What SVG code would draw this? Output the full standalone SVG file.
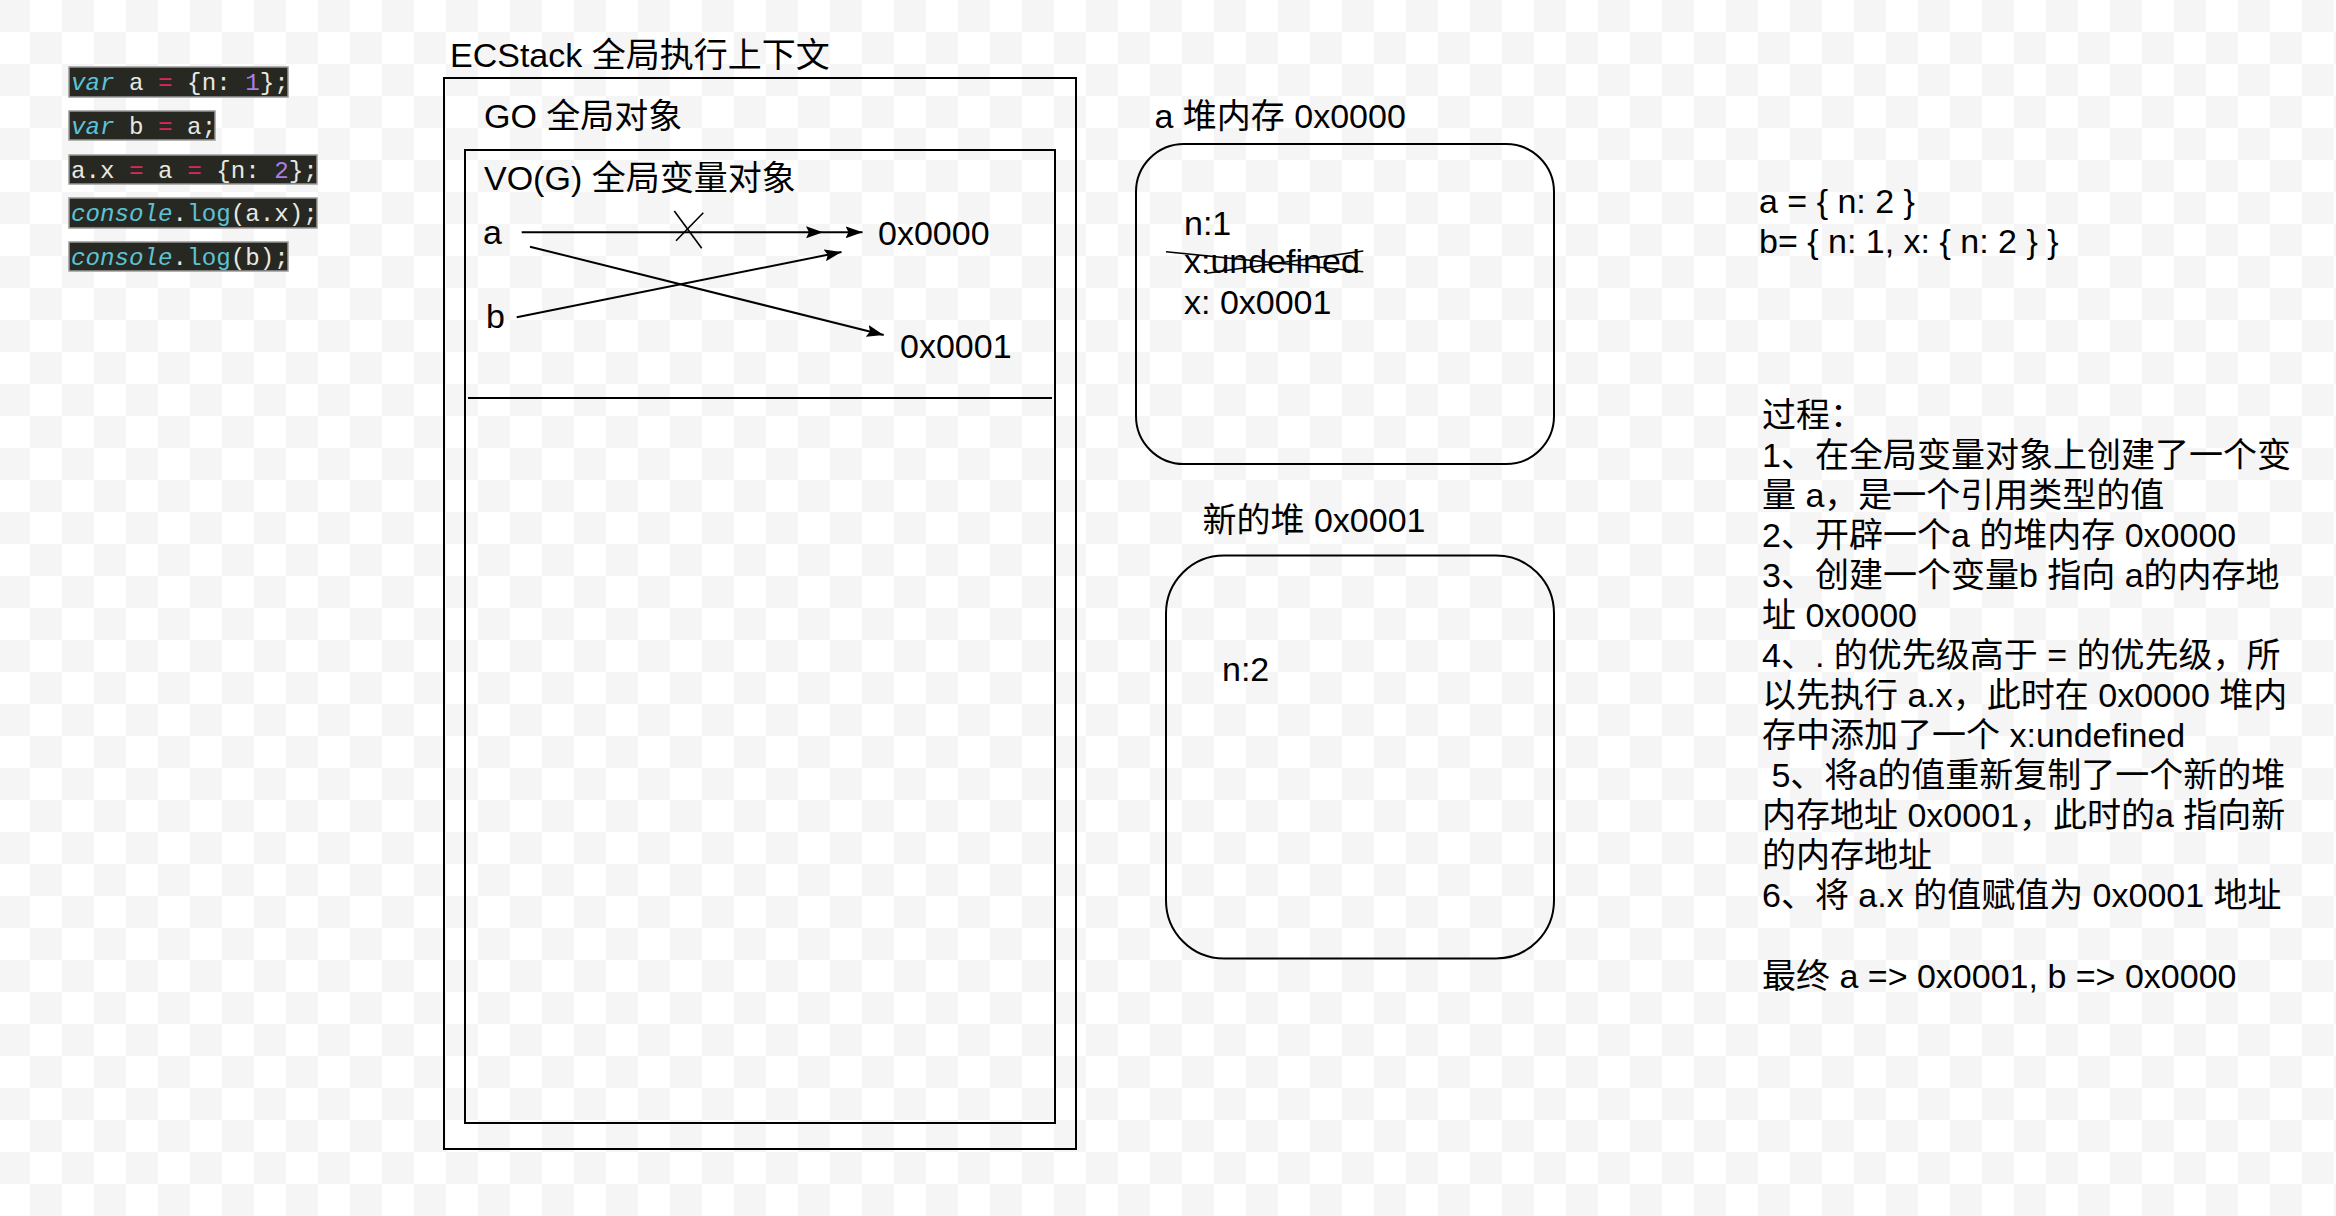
<svg xmlns="http://www.w3.org/2000/svg" width="2336" height="1216" viewBox="0 0 2336 1216">
<style>
.t{font-family:"Liberation Sans","Noto Sans CJK SC",sans-serif;font-size:34px;fill:#000}
.box{fill:none;stroke:#000;stroke-width:2}
.ln{fill:none;stroke:#000;stroke-width:2}
.thin{fill:none;stroke:#000;stroke-width:1.6}
.cbg{fill:#272822;stroke:#9a9a9a;stroke-width:1.5}
.code{font-family:"Liberation Mono","DejaVu Sans Mono",monospace;font-size:24.2px;fill:#e8e8e2}
.kw{fill:#5cc3d6;font-style:italic}
.fn{fill:#5cc3d6}
.op{fill:#e0245e}
.num{fill:#a67ee8}
</style>
<defs>
<pattern id="checker" x="-2" y="0" width="64" height="64" patternUnits="userSpaceOnUse">
<rect width="64" height="64" fill="#ffffff"/>
<rect width="32" height="32" fill="#f5f5f5"/>
<rect x="32" y="32" width="32" height="32" fill="#f5f5f5"/>
</pattern>
<marker id="arr" viewBox="0 0 17 12" markerUnits="userSpaceOnUse" markerWidth="17" markerHeight="12" refX="17" refY="6" orient="auto">
<path d="M0,0 L17,6 L0,12 L3,6 Z" fill="#000"/>
</marker>
</defs>
<rect width="2336" height="1216" fill="url(#checker)"/>

<g id="code">
<rect class="cbg" x="69" y="67" width="219" height="30"/>
<text class="code" x="71" y="90" xml:space="preserve"><tspan class="kw">var</tspan> a <tspan class="op">=</tspan> {n: <tspan class="num">1</tspan>};</text>
<rect class="cbg" x="69" y="111" width="146" height="29"/>
<text class="code" x="71" y="134" xml:space="preserve"><tspan class="kw">var</tspan> b <tspan class="op">=</tspan> a;</text>
<rect class="cbg" x="69" y="155" width="248" height="29"/>
<text class="code" x="71" y="178" xml:space="preserve">a.x <tspan class="op">=</tspan> a <tspan class="op">=</tspan> {n: <tspan class="num">2</tspan>};</text>
<rect class="cbg" x="69" y="198" width="248" height="30"/>
<text class="code" x="71" y="221" xml:space="preserve"><tspan class="kw">console</tspan>.<tspan class="fn">log</tspan>(a.x);</text>
<rect class="cbg" x="69" y="242" width="219" height="29"/>
<text class="code" x="71" y="265" xml:space="preserve"><tspan class="kw">console</tspan>.<tspan class="fn">log</tspan>(b);</text>
</g>

<g id="ecstack">
<text class="t" x="450" y="67">ECStack 全局执行上下文</text>
<rect class="box" x="444" y="78" width="632" height="1071"/>
</g>

<g id="go">
<text class="t" x="484" y="128">GO 全局对象</text>
</g>

<g id="vo">
<rect class="box" x="465" y="150" width="590" height="973"/>
<text class="t" x="484" y="190">VO(G) 全局变量对象</text>
<line class="ln" x1="468" y1="398" x2="1052" y2="398"/>
<text class="t" x="483" y="244">a</text>
<text class="t" x="486" y="328">b</text>
<text class="t" x="878" y="245">0x0000</text>
<text class="t" x="900" y="358">0x0001</text>
</g>

<g id="connectors">
<path class="ln" d="M521.7,232.3 L823,232.3" marker-end="url(#arr)"/>
<path class="ln" d="M823,232.3 L862.5,232.3" marker-end="url(#arr)"/>
<path class="ln" d="M530,246.7 L883.7,335" marker-end="url(#arr)"/>
<path class="ln" d="M516.7,317.3 L841.5,252" marker-end="url(#arr)"/>
<line class="thin" x1="674.3" y1="211" x2="701.7" y2="248.3"/>
<line class="thin" x1="703.3" y1="212.7" x2="676" y2="240.7"/>
</g>

<g id="heap0">
<text class="t" x="1154.5" y="128">a 堆内存 0x0000</text>
<rect class="box" x="1136" y="144" width="418" height="320" rx="48" ry="48"/>
<text class="t" x="1184" y="235">n:1</text>
<text class="t" x="1184" y="273">x:undefined</text>
<text class="t" x="1184" y="314">x: 0x0001</text>
<line class="thin" x1="1166" y1="251.7" x2="1363.3" y2="271.7"/>
<line class="thin" x1="1206.7" y1="273.3" x2="1363.3" y2="251"/>
</g>

<g id="heap1">
<text class="t" x="1202.5" y="532">新的堆 0x0001</text>
<rect class="box" x="1166" y="555.5" width="388" height="403" rx="58" ry="58"/>
<text class="t" x="1222" y="681">n:2</text>
</g>

<g id="result">
<text class="t" x="1759" y="213">a = { n: 2 }</text>
<text class="t" x="1759" y="253">b= { n: 1, x: { n: 2 } }</text>
</g>

<g id="process">
<text class="t" x="1762" y="427">过程：</text>
<text class="t" x="1762" y="467">1、在全局变量对象上创建了一个变</text>
<text class="t" x="1762" y="507">量 a，是一个引用类型的值</text>
<text class="t" x="1762" y="547">2、开辟一个a 的堆内存 0x0000</text>
<text class="t" x="1762" y="587">3、创建一个变量b 指向 a的内存地</text>
<text class="t" x="1762" y="627">址 0x0000</text>
<text class="t" x="1762" y="667">4、. 的优先级高于 = 的优先级，所</text>
<text class="t" x="1762" y="707">以先执行 a.x，此时在 0x0000 堆内</text>
<text class="t" x="1762" y="747">存中添加了一个 x:undefined</text>
<text class="t" x="1762" y="787" xml:space="preserve"> 5、将a的值重新复制了一个新的堆</text>
<text class="t" x="1762" y="827">内存地址 0x0001，此时的a 指向新</text>
<text class="t" x="1762" y="867">的内存地址</text>
<text class="t" x="1762" y="907">6、将 a.x 的值赋值为 0x0001 地址</text>
<text class="t" x="1762" y="988">最终 a =&gt; 0x0001, b =&gt; 0x0000</text>
</g>
</svg>
